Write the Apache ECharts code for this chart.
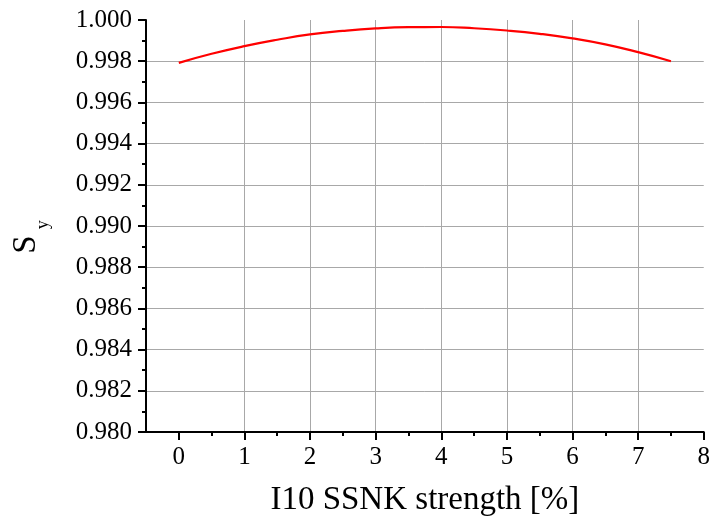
<!DOCTYPE html>
<html>
<head>
<meta charset="utf-8">
<script src="https://cdn.jsdelivr.net/npm/echarts@6/dist/echarts.min.js"></script>
<style>html,body{margin:0;padding:0;background:#fff}#c{width:713px;height:522px}</style>
</head>
<body>
<div id="c"></div>
<script>
var xValues = [0, 0.5, 1, 1.5, 2, 2.5, 3, 3.5, 4, 4.5, 5, 5.5, 6, 6.5, 7, 7.5];
var syValues = [0.99792, 0.99836, 0.99873, 0.99904, 0.99930, 0.99947, 0.99959, 0.99965, 0.99966, 0.99960, 0.99949, 0.99933, 0.99911, 0.99882, 0.99844, 0.99800];
var xTicks = [0, 1, 2, 3, 4, 5, 6, 7, 8];
var xMinorTicks = [0.5, 1.5, 2.5, 3.5, 4.5, 5.5, 6.5, 7.5];
var xName = 'I10 SSNK strength [%]';

var FONT = 'Liberation Serif';
var chart = echarts.init(document.getElementById('c'), null, {renderer: 'canvas'});
var data = xValues.map(function (x, i) { return [x, syValues[i]]; });
chart.setOption({
  animation: false,
  backgroundColor: '#fff',
  grid: {left: 146, right: 6, top: 20, bottom: 90, containLabel: false},
  xAxis: [{
    type: 'value', min: -0.5, max: 8,
    name: xName, nameLocation: 'middle', nameGap: 52,
    nameTextStyle: {fontFamily: FONT, fontSize: 33, color: '#000'},
    axisLine: {show: true, onZero: false, lineStyle: {color: '#000', width: 2}},
    axisTick: {show: true, customValues: xTicks, length: 8, lineStyle: {color: '#000', width: 2}},
    axisLabel: {customValues: xTicks, margin: 13, fontFamily: FONT, fontSize: 25, color: '#000'},
    splitLine: {show: true, showMinLine: false, showMaxLine: false, lineStyle: {color: '#a8a8a8', width: 1}}
  }, {
    type: 'value', min: -0.5, max: 8, position: 'bottom', gridIndex: 0,
    axisLine: {show: false, onZero: false},
    axisTick: {show: true, customValues: xMinorTicks, length: 4, lineStyle: {color: '#000', width: 2}},
    axisLabel: {show: false},
    splitLine: {show: false}
  }],
  yAxis: {
    type: 'value', min: 0.98, max: 1.0, interval: 0.002,
    name: '{s|S}{sub|y}', nameLocation: 'middle', nameGap: 94, nameRotate: 90,
    nameTextStyle: {
      fontFamily: FONT, color: '#000', padding: [0, 22, 0, 0],
      rich: {
        s: {fontFamily: FONT, fontSize: 33, color: '#000'},
        sub: {fontFamily: FONT, fontSize: 18, color: '#000', padding: [33, 0, 0, 6]}
      }
    },
    axisLine: {show: true, onZero: false, lineStyle: {color: '#000', width: 2}},
    axisTick: {show: true, length: 8, lineStyle: {color: '#000', width: 2}},
    minorTick: {show: true, splitNumber: 2, length: 4, lineStyle: {color: '#000', width: 2}},
    axisLabel: {margin: 14, fontFamily: FONT, fontSize: 25, color: '#000',
      formatter: function (v) { return v.toFixed(3); }},
    splitLine: {show: true, showMinLine: false, showMaxLine: false, lineStyle: {color: '#a8a8a8', width: 1}}
  },
  series: [{
    type: 'line', xAxisIndex: 0, data: data, smooth: true, showSymbol: false,
    lineStyle: {color: '#ff0000', width: 2.2}
  }]
});
</script>
</body>
</html>
